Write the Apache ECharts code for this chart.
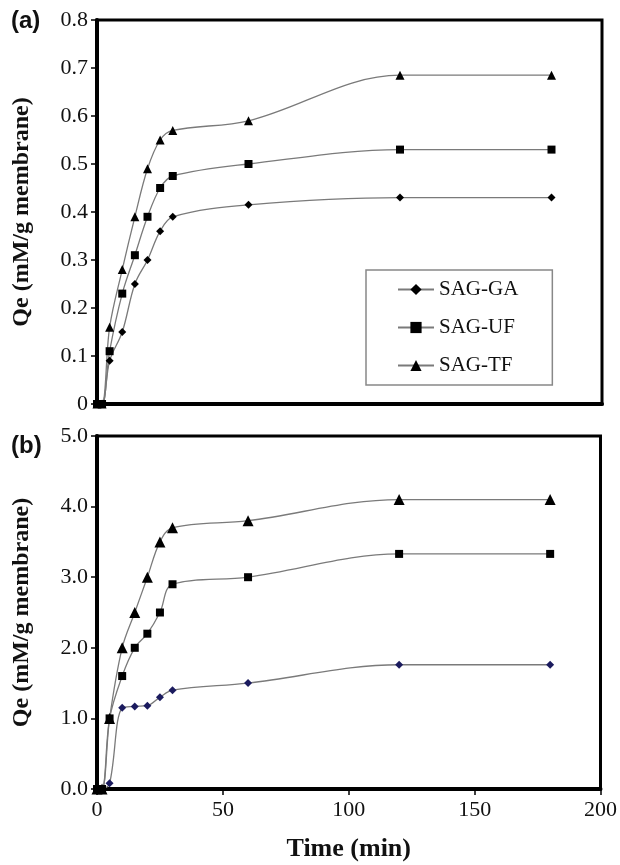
<!DOCTYPE html>
<html>
<head>
<meta charset="utf-8">
<script src="https://cdn.jsdelivr.net/npm/echarts@6/dist/echarts.min.js"></script>
<style>html,body{margin:0;padding:0;background:#fff;}#c{width:620px;height:865px;}</style>
</head>
<body>
<div id="c"></div>
<script>
const time = [0, 2, 5, 10, 15, 20, 25, 30, 60, 120, 180];
const seriesNames = ['SAG-GA', 'SAG-UF', 'SAG-TF'];
// panel (a)
const a_GA = [0, 0, 0.09, 0.15, 0.25, 0.30, 0.36, 0.39, 0.415, 0.43, 0.43];
const a_UF = [0, 0, 0.11, 0.23, 0.31, 0.39, 0.45, 0.475, 0.50, 0.53, 0.53];
const a_TF = [0, 0, 0.16, 0.28, 0.39, 0.49, 0.55, 0.57, 0.59, 0.685, 0.685];
// panel (b)
const b_GA = [0, 0, 0.08, 1.15, 1.17, 1.18, 1.30, 1.40, 1.50, 1.76, 1.76];
const b_UF = [0, 0, 1.0, 1.6, 2.0, 2.2, 2.5, 2.9, 3.0, 3.33, 3.33];
const b_TF = [0, 0, 1.0, 2.0, 2.5, 3.0, 3.5, 3.7, 3.8, 4.1, 4.1];
const xTicks = [0, 50, 100, 150, 200];
const yTicksA = [0, 0.1, 0.2, 0.3, 0.4, 0.5, 0.6, 0.7, 0.8];
const yTicksB = [0, 1, 2, 3, 4, 5];

const pair = arr => arr.map((v, i) => [time[i], v]);
const serif = '"Liberation Serif", "Times New Roman", serif';
const symbols = ['diamond', 'rect', 'triangle'];
const sizesA = [8, 8, 9];
const sizesB = [8, 8, 11];
const colorsA = ['#000', '#000', '#000'];
const colorsB = ['#1b1b5e', '#000', '#000'];

function mkSeries(name, data, idx, panel) {
  return {
    name: name,
    type: 'line',
    xAxisIndex: panel,
    yAxisIndex: panel,
    data: pair(data),
    smooth: 0.35,
    symbol: symbols[idx],
    symbolSize: panel === 0 ? sizesA[idx] : sizesB[idx],
    showAllSymbol: true,
    lineStyle: { color: '#7a7a7a', width: 1.3 },
    itemStyle: { color: panel === 0 ? colorsA[idx] : colorsB[idx] },
    emphasis: { disabled: true },
    animation: false,
    z: 3
  };
}

const chart = echarts.init(document.getElementById('c'), null, { renderer: 'canvas' });
const axisLabelStyle = { fontFamily: serif, fontSize: 22, color: '#111' };

const option = {
  animation: false,
  backgroundColor: '#fff',
  grid: [
    { left: 97, right: 18, top: 20, height: 384, show: true, borderColor: '#000', borderWidth: 3, containLabel: false },
    { left: 97, right: 18, top: 436, height: 353, show: true, borderColor: '#000', borderWidth: 3, containLabel: false }
  ],
  legend: {
    data: seriesNames,
    orient: 'vertical',
    left: 366,
    top: 270,
    padding: [9, 34, 9, 31],
    itemWidth: 36,
    itemHeight: 14,
    itemGap: 17,
    borderColor: '#888',
    borderWidth: 1.5,
    backgroundColor: '#fff',
    textStyle: { fontFamily: serif, fontSize: 21, color: '#111' },
    selectedMode: false
  },
  xAxis: [
    {
      type: 'value', gridIndex: 0, min: xTicks[0], max: xTicks[xTicks.length - 1], interval: 50,
      axisLine: { show: true, lineStyle: { color: '#000', width: 4 } },
      axisTick: { show: false }, axisLabel: { show: false }, splitLine: { show: false }
    },
    {
      type: 'value', gridIndex: 1, min: xTicks[0], max: xTicks[xTicks.length - 1], interval: 50,
      name: 'Time (min)', nameLocation: 'middle', nameGap: 47,
      nameTextStyle: { fontFamily: serif, fontSize: 26, fontWeight: 'bold', color: '#111' },
      axisLine: { show: true, lineStyle: { color: '#000', width: 4 } },
      axisTick: { show: true, length: 6, lineStyle: { color: '#000', width: 1.5 } },
      axisLabel: Object.assign({ margin: 10 }, axisLabelStyle),
      splitLine: { show: false }
    }
  ],
  yAxis: [
    {
      type: 'value', gridIndex: 0, min: yTicksA[0], max: yTicksA[yTicksA.length - 1], interval: 0.1,
      name: 'Qe (mM/g membrane)', nameLocation: 'middle', nameGap: 63,
      nameTextStyle: { fontFamily: serif, fontSize: 24, fontWeight: 'bold', color: '#111' },
      axisLine: { show: true, lineStyle: { color: '#000', width: 4 } },
      axisTick: { show: true, length: 6, lineStyle: { color: '#000', width: 1.5 } },
      axisLabel: Object.assign({ margin: 9, formatter: v => (Math.abs(v) < 1e-9 ? '0' : v.toFixed(1)) }, axisLabelStyle),
      splitLine: { show: false }
    },
    {
      type: 'value', gridIndex: 1, min: yTicksB[0], max: yTicksB[yTicksB.length - 1], interval: 1,
      name: 'Qe (mM/g membrane)', nameLocation: 'middle', nameGap: 63,
      nameTextStyle: { fontFamily: serif, fontSize: 24, fontWeight: 'bold', color: '#111' },
      axisLine: { show: true, lineStyle: { color: '#000', width: 4 } },
      axisTick: { show: true, length: 6, lineStyle: { color: '#000', width: 1.5 } },
      axisLabel: Object.assign({ margin: 9, formatter: v => v.toFixed(1) }, axisLabelStyle),
      splitLine: { show: false }
    }
  ],
  graphic: [
    { type: 'text', left: 11, top: 9, style: { text: '(a)', font: 'bold 24px "Liberation Sans", Arial, sans-serif', fill: '#111' } },
    { type: 'text', left: 11, top: 434, style: { text: '(b)', font: 'bold 24px "Liberation Sans", Arial, sans-serif', fill: '#111' } }
  ],
  series: [
    mkSeries(seriesNames[0], a_GA, 0, 0),
    mkSeries(seriesNames[1], a_UF, 1, 0),
    mkSeries(seriesNames[2], a_TF, 2, 0),
    mkSeries(seriesNames[0], b_GA, 0, 1),
    mkSeries(seriesNames[1], b_UF, 1, 1),
    mkSeries(seriesNames[2], b_TF, 2, 1)
  ]
};
chart.setOption(option);
</script>
</body>
</html>
